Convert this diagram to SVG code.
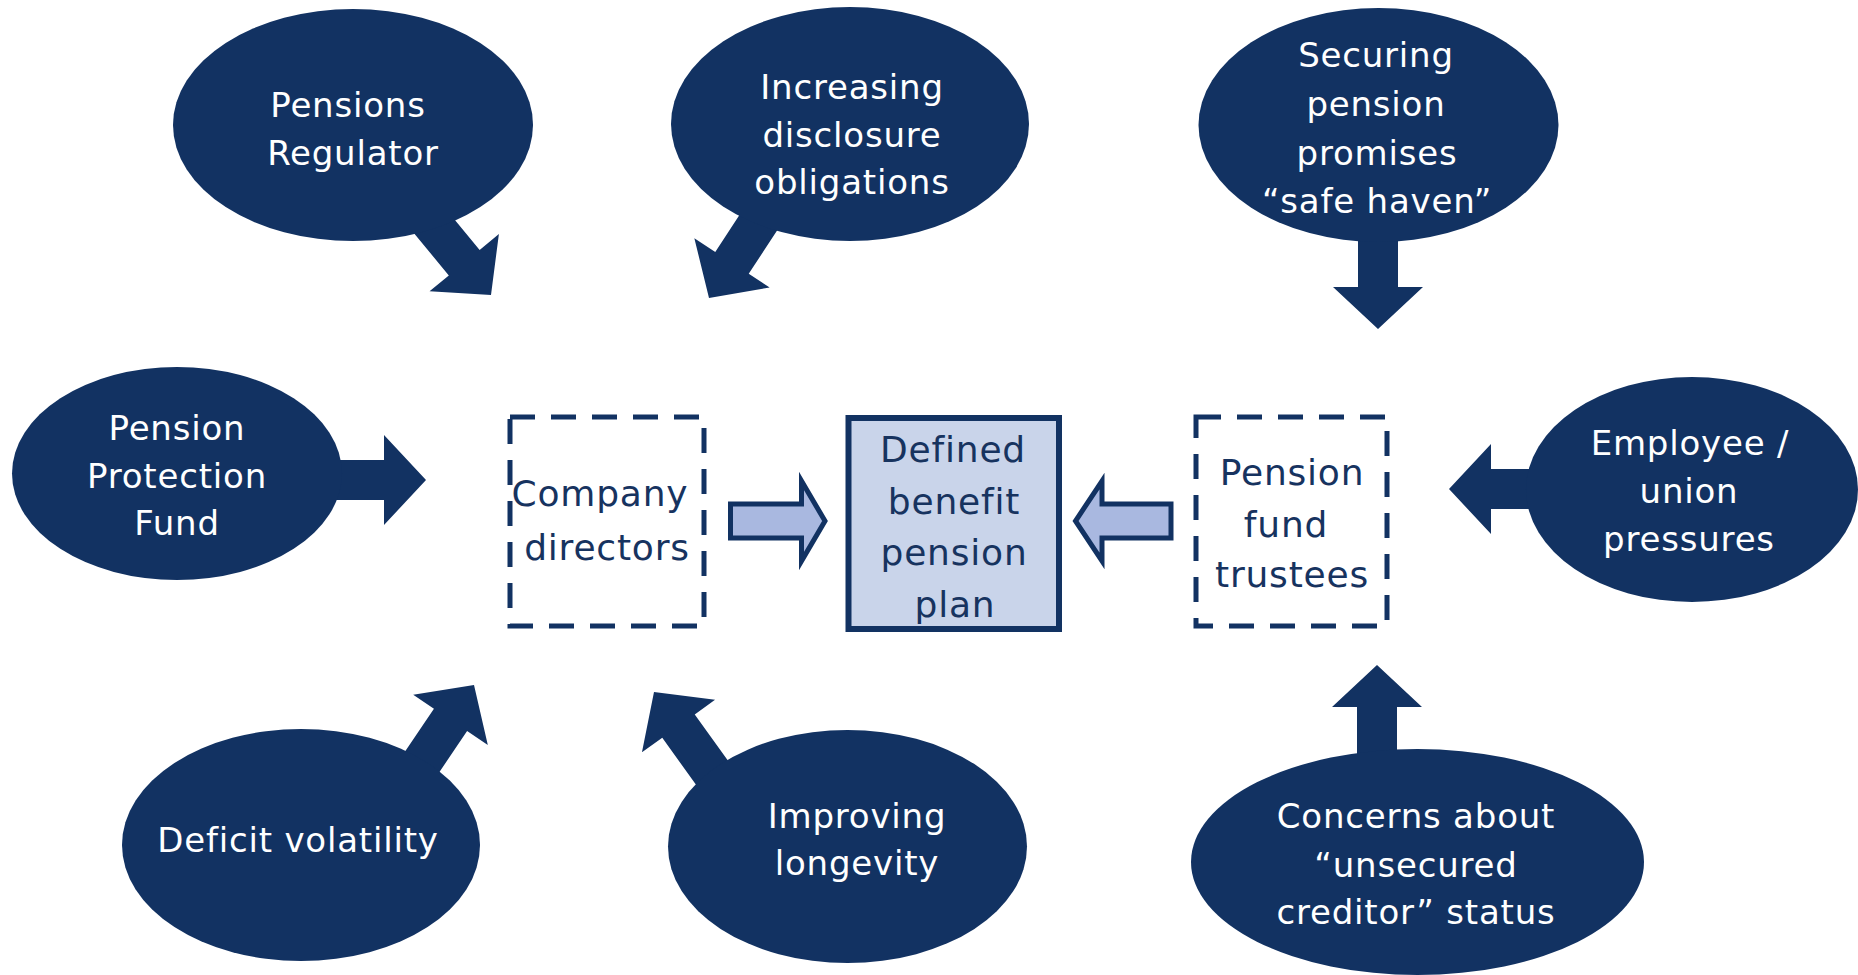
<svg xmlns="http://www.w3.org/2000/svg" xmlns:xlink="http://www.w3.org/1999/xlink" width="1858" height="975" viewBox="0 0 1858 975">
  <style>
    .bubble { fill: #123262; }
    .fat { fill: #123262; }
    .wt { font-family: "DejaVu Sans", "Liberation Sans", sans-serif; font-size: 34px; letter-spacing: 0.8px; fill: #ffffff; text-anchor: middle; }
    .nt { font-family: "DejaVu Sans", "Liberation Sans", sans-serif; font-size: 36px; letter-spacing: 0.8px; fill: #17335f; text-anchor: middle; }
    .dashbox { fill: none; stroke: #123262; stroke-width: 5; stroke-dasharray: 25 16; }
    .plan { fill: #c9d4ea; stroke: #123262; stroke-width: 6; }
    .block { fill: #a9b8e0; stroke: #123262; stroke-width: 5; stroke-linejoin: miter; }
  </style>
  <defs>
    <!-- solid pressure arrow, tip at the origin pointing along +x -->
    <path id="fat-arrow" d="M-130,-20 H-42 V-45 L0,0 L-42,45 V20 H-130 Z"/>
  </defs>
  <rect width="1858" height="975" fill="#ffffff"/>

  <!-- arrows from the pressure bubbles -->
  <g id="connectors">
    <use xlink:href="#fat-arrow" href="#fat-arrow" class="fat" transform="translate(491,295) rotate(50.4)"/>
    <use xlink:href="#fat-arrow" href="#fat-arrow" class="fat" transform="translate(709,298) rotate(123.2)"/>
    <use xlink:href="#fat-arrow" href="#fat-arrow" class="fat" transform="translate(1378,329) rotate(90)"/>
    <use xlink:href="#fat-arrow" href="#fat-arrow" class="fat" transform="translate(426,480)"/>
    <use xlink:href="#fat-arrow" href="#fat-arrow" class="fat" transform="translate(1449,489) rotate(180)"/>
    <use xlink:href="#fat-arrow" href="#fat-arrow" class="fat" transform="translate(474,685) rotate(-56)"/>
    <use xlink:href="#fat-arrow" href="#fat-arrow" class="fat" transform="translate(654,692) rotate(-125.7)"/>
    <use xlink:href="#fat-arrow" href="#fat-arrow" class="fat" transform="translate(1377,665) rotate(-90)"/>
    <!-- block arrows into the plan -->
    <polygon class="block" points="730.5,504 801.5,504 801.5,481 825,521 801.5,561 801.5,538 730.5,538"/>
    <polygon class="block" points="1171,504 1102,504 1102,481 1075.5,521 1102,561 1102,538 1171,538"/>
  </g>

  <g id="pensions-regulator">
    <ellipse class="bubble" cx="353" cy="125" rx="180" ry="116"/>
    <text class="wt" x="348" y="117">Pensions</text>
    <text class="wt" x="353" y="165">Regulator</text>
  </g>

  <g id="disclosure">
    <ellipse class="bubble" cx="850" cy="124" rx="179" ry="117"/>
    <text class="wt" x="852" y="99">Increasing</text>
    <text class="wt" x="852" y="147">disclosure</text>
    <text class="wt" x="852" y="194">obligations</text>
  </g>

  <g id="securing">
    <ellipse class="bubble" cx="1378.5" cy="125" rx="180" ry="117"/>
    <text class="wt" x="1376" y="67">Securing</text>
    <text class="wt" x="1376" y="116">pension</text>
    <text class="wt" x="1377" y="165">promises</text>
    <text class="wt" x="1377" y="213">“safe haven”</text>
  </g>

  <g id="protection-fund">
    <ellipse class="bubble" cx="177" cy="473.5" rx="165" ry="106.5"/>
    <text class="wt" x="177" y="440">Pension</text>
    <text class="wt" x="177" y="488">Protection</text>
    <text class="wt" x="177" y="535">Fund</text>
  </g>

  <g id="employee-union">
    <ellipse class="bubble" cx="1692" cy="489.5" rx="166" ry="112.5"/>
    <text class="wt" x="1690" y="455">Employee /</text>
    <text class="wt" x="1689" y="503">union</text>
    <text class="wt" x="1689" y="551">pressures</text>
  </g>

  <g id="deficit-volatility">
    <ellipse class="bubble" cx="301" cy="845" rx="179" ry="116"/>
    <text class="wt" x="298" y="852">Deficit volatility</text>
  </g>

  <g id="longevity">
    <ellipse class="bubble" cx="847.5" cy="846.5" rx="179.5" ry="116.5"/>
    <text class="wt" x="857" y="828">Improving</text>
    <text class="wt" x="857" y="875">longevity</text>
  </g>

  <g id="unsecured-creditor">
    <ellipse class="bubble" cx="1417.5" cy="862" rx="226.5" ry="113"/>
    <text class="wt" x="1416" y="828">Concerns about</text>
    <text class="wt" x="1416" y="877">“unsecured</text>
    <text class="wt" x="1416" y="924">creditor” status</text>
  </g>

  <g id="company-directors">
    <rect class="dashbox" x="510" y="417" width="194" height="209"/>
    <text class="nt" x="600" y="506">Company</text>
    <text class="nt" x="607" y="560">directors</text>
  </g>

  <g id="db-plan">
    <rect class="plan" x="848.5" y="418" width="210.5" height="211"/>
    <text class="nt" x="953" y="462">Defined</text>
    <text class="nt" x="954" y="514">benefit</text>
    <text class="nt" x="954" y="565">pension</text>
    <text class="nt" x="955" y="617">plan</text>
  </g>

  <g id="trustees">
    <rect class="dashbox" x="1196" y="417" width="191" height="209"/>
    <text class="nt" x="1292" y="485">Pension</text>
    <text class="nt" x="1286" y="537">fund</text>
    <text class="nt" x="1292" y="587">trustees</text>
  </g>
</svg>
